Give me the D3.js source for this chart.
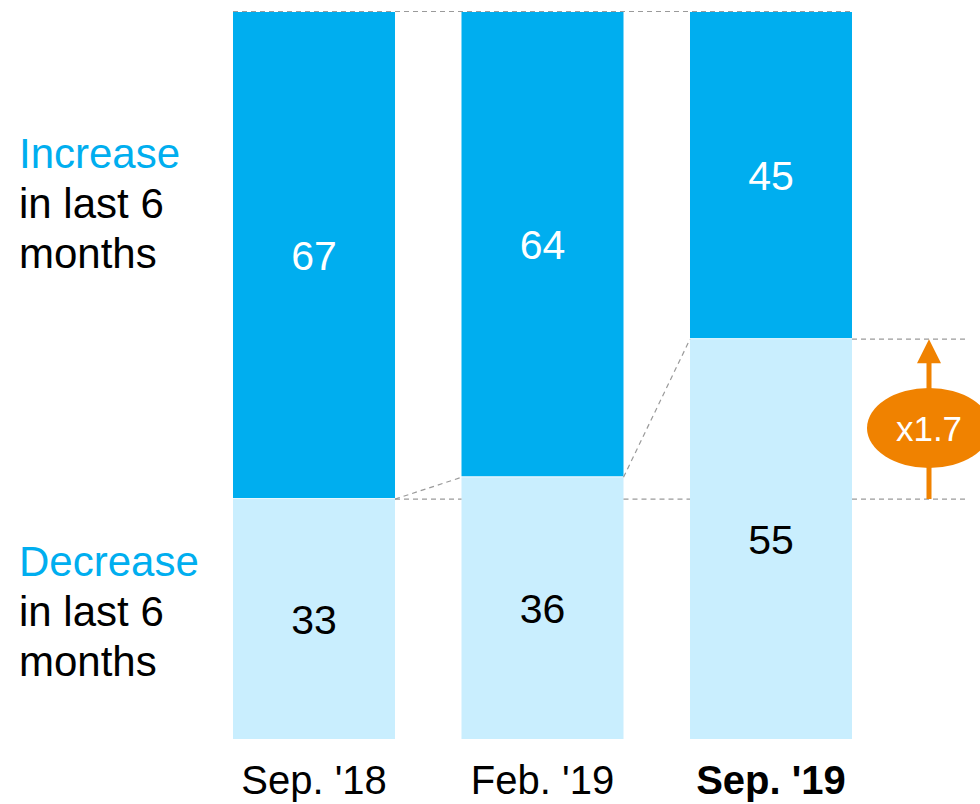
<!DOCTYPE html>
<html>
<head>
<meta charset="utf-8">
<script src="https://cdn.jsdelivr.net/npm/d3@7"></script>
<style>
  html, body { margin: 0; padding: 0; background: #fff; }
  svg { display: block; font-family: "Liberation Sans", Arial, sans-serif; }
</style>
</head>
<body>
<svg id="chart" width="980" height="804"></svg>
<script>
// Share of respondents (%) by survey wave
const periods = ["Sep. '18", "Feb. '19", "Sep. '19"];
const decreaseValues = [33, 36, 55];
const increaseValues = [67, 64, 45];
const growthLabel = "x1.7";

const svg = d3.select("#chart");

const x = d3.scaleBand().domain(periods).range([233, 852]).paddingInner(0.291).paddingOuter(0);
const y = d3.scaleLinear().domain([0, 100]).range([739, 12]);

const darkBlue = "#00AEEF";
const lightBlue = "#C9EEFE";
const dashGray = "#9a9a9a";

const rows = periods.map((p, i) => ({ p, dec: decreaseValues[i], inc: increaseValues[i] }));

// top reference line
svg.append("line")
  .attr("x1", x(periods[0])).attr("x2", x(periods[2]) + x.bandwidth())
  .attr("y1", y(100) - 0.5).attr("y2", y(100) - 0.5)
  .attr("stroke", dashGray).attr("stroke-width", 1.2).attr("stroke-dasharray", "5,4");

// bars
const g = svg.append("g");
g.selectAll("rect.dec").data(rows).join("rect")
  .attr("class", "dec")
  .attr("x", d => x(d.p)).attr("width", x.bandwidth())
  .attr("y", d => y(d.dec)).attr("height", d => y(0) - y(d.dec))
  .attr("fill", lightBlue);
g.selectAll("rect.inc").data(rows).join("rect")
  .attr("class", "inc")
  .attr("x", d => x(d.p)).attr("width", x.bandwidth())
  .attr("y", d => y(100)).attr("height", d => y(d.dec) - y(100) - 1)
  .attr("fill", darkBlue);

// connector lines between bars
const conn = svg.append("g").attr("stroke", dashGray).attr("stroke-width", 1.2)
  .attr("stroke-dasharray", "5,4").attr("fill", "none");
for (let i = 0; i < rows.length - 1; i++) {
  conn.append("line")
    .attr("x1", x(rows[i].p) + x.bandwidth()).attr("y1", y(rows[i].dec))
    .attr("x2", x(rows[i + 1].p)).attr("y2", y(rows[i + 1].dec));
}
// baseline from first wave across to last wave
conn.append("line")
  .attr("x1", x(rows[0].p) + x.bandwidth()).attr("y1", y(rows[0].dec))
  .attr("x2", x(rows[1].p)).attr("y2", y(rows[0].dec));
conn.append("line")
  .attr("x1", x(rows[1].p) + x.bandwidth()).attr("y1", y(rows[0].dec))
  .attr("x2", x(rows[2].p)).attr("y2", y(rows[0].dec));
// right-hand comparison guides
const lastRight = x(rows[2].p) + x.bandwidth();
[rows[0].dec, rows[2].dec].forEach(v => {
  conn.append("line")
    .attr("x1", lastRight).attr("x2", 968)
    .attr("y1", y(v)).attr("y2", y(v));
});

// value labels
g.selectAll("text.decv").data(rows).join("text")
  .attr("x", d => x(d.p) + x.bandwidth() / 2)
  .attr("y", d => (y(d.dec) + y(0)) / 2)
  .attr("dy", "0.36em").attr("text-anchor", "middle")
  .attr("font-size", 41).attr("fill", "#000")
  .text(d => d.dec);
g.selectAll("text.incv").data(rows).join("text")
  .attr("x", d => x(d.p) + x.bandwidth() / 2)
  .attr("y", d => (y(100) + y(d.dec)) / 2)
  .attr("dy", "0.36em").attr("text-anchor", "middle")
  .attr("font-size", 41).attr("fill", "#fff")
  .text(d => d.inc);

// category axis labels
svg.selectAll("text.cat").data(periods).join("text")
  .attr("x", d => x(d) + x.bandwidth() / 2)
  .attr("y", 794)
  .attr("text-anchor", "middle")
  .attr("font-size", 40)
  .attr("font-weight", (d, i) => i === periods.length - 1 ? "bold" : "normal")
  .attr("fill", "#000")
  .text(d => d);

// left-side legend text
function legendBlock(top, title) {
  const t = svg.append("text").attr("x", 19).attr("font-size", 42);
  t.append("tspan").attr("x", 19).attr("y", top).attr("fill", darkBlue).text(title);
  t.append("tspan").attr("x", 19).attr("y", top + 50).attr("fill", "#000").text("in last 6");
  t.append("tspan").attr("x", 19).attr("y", top + 100).attr("fill", "#000").text("months");
}
legendBlock(168, "Increase");
legendBlock(576, "Decrease");

// growth arrow
const orange = "#F08200";
const ax = 929;
const yLow = y(rows[0].dec), yHigh = y(rows[2].dec);
svg.append("line")
  .attr("x1", ax).attr("x2", ax).attr("y1", yLow).attr("y2", yHigh + 22)
  .attr("stroke", orange).attr("stroke-width", 5);
svg.append("path")
  .attr("d", `M${ax},${yHigh} L${ax - 12},${yHigh + 24} L${ax + 12},${yHigh + 24} Z`)
  .attr("fill", orange);
const cy = 428;
svg.append("ellipse")
  .attr("cx", ax).attr("cy", cy).attr("rx", 62).attr("ry", 40)
  .attr("fill", orange);
svg.append("text")
  .attr("x", ax).attr("y", cy).attr("dy", "0.36em")
  .attr("text-anchor", "middle").attr("font-size", 35).attr("fill", "#fff")
  .text(growthLabel);
</script>
</body>
</html>
